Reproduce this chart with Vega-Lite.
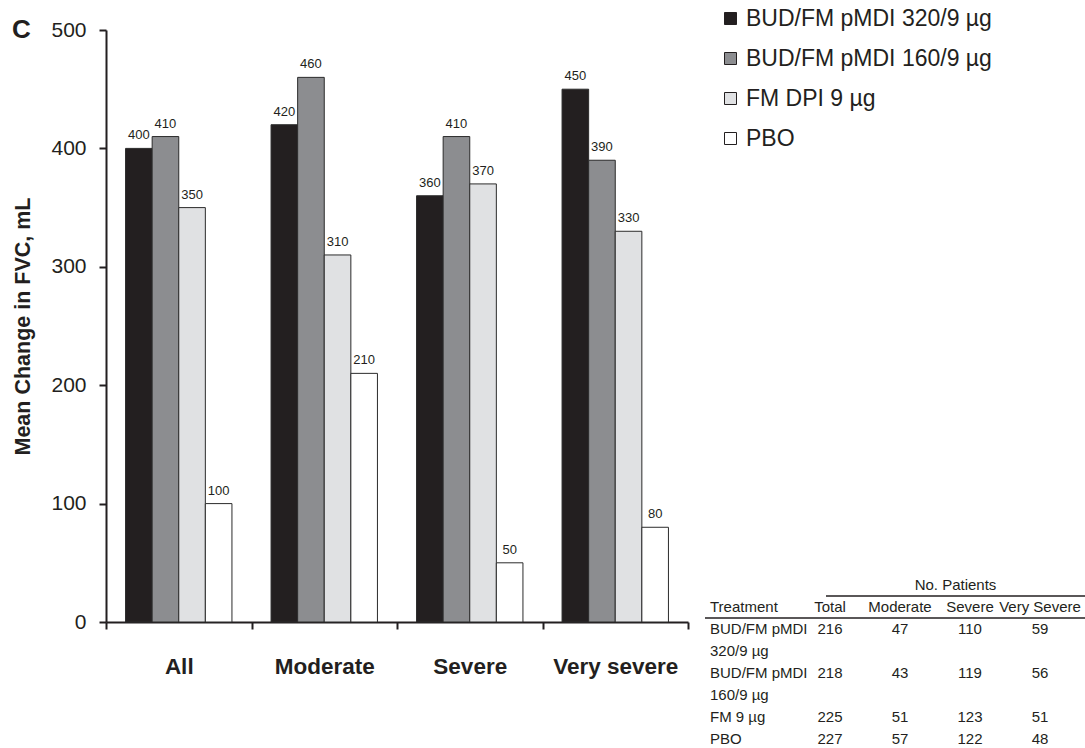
{
  "$schema": "https://vega.github.io/schema/vega-lite/v6.json",
  "autosize": {"type": "none"},
  "padding": {"left": 106, "top": 30, "right": 979, "bottom": 718},
  "background": "#ffffff",
  "config": {
    "view": {"stroke": null},
    "font": "Liberation Sans",
    "axis": {"domainColor": "#231f20", "tickColor": "#231f20", "labelColor": "#231f20", "titleColor": "#231f20", "labelFont": "Liberation Sans", "titleFont": "Liberation Sans", "grid": false},
    "legend": {"labelFont": "Liberation Sans", "labelColor": "#231f20"},
    "text": {"font": "Liberation Sans", "color": "#231f20"}
  },
  "hconcat": [
    {
      "width": 582,
      "height": 592,
      "title": {"text": "C", "anchor": "start", "frame": "group", "fontSize": 26, "fontWeight": "bold", "font": "Liberation Sans", "color": "#231f20", "dx": -94, "offset": -24, "align": "left"},
      "data": {"values": [
        {"group": "All", "treatment": "BUD/FM pMDI 320/9 µg", "value": 400},
        {"group": "All", "treatment": "BUD/FM pMDI 160/9 µg", "value": 410},
        {"group": "All", "treatment": "FM DPI 9 µg", "value": 350},
        {"group": "All", "treatment": "PBO", "value": 100},
        {"group": "Moderate", "treatment": "BUD/FM pMDI 320/9 µg", "value": 420},
        {"group": "Moderate", "treatment": "BUD/FM pMDI 160/9 µg", "value": 460},
        {"group": "Moderate", "treatment": "FM DPI 9 µg", "value": 310},
        {"group": "Moderate", "treatment": "PBO", "value": 210},
        {"group": "Severe", "treatment": "BUD/FM pMDI 320/9 µg", "value": 360},
        {"group": "Severe", "treatment": "BUD/FM pMDI 160/9 µg", "value": 410},
        {"group": "Severe", "treatment": "FM DPI 9 µg", "value": 370},
        {"group": "Severe", "treatment": "PBO", "value": 50},
        {"group": "Very severe", "treatment": "BUD/FM pMDI 320/9 µg", "value": 450},
        {"group": "Very severe", "treatment": "BUD/FM pMDI 160/9 µg", "value": 390},
        {"group": "Very severe", "treatment": "FM DPI 9 µg", "value": 330},
        {"group": "Very severe", "treatment": "PBO", "value": 80}
      ]},
      "encoding": {
        "x": {"field": "group", "type": "nominal", "sort": null,
              "scale": {"type": "band", "paddingInner": 0, "paddingOuter": 0},
              "axis": {"title": null, "labelAngle": 0, "labelFontSize": 22.5, "labelFontWeight": "bold", "labelPadding": 26, "tickSize": 7, "tickWidth": 2, "domainWidth": 2, "tickBand": "extent"}},
        "xOffset": {"field": "treatment", "type": "nominal", "sort": null,
                    "scale": {"paddingInner": 0, "paddingOuter": 0.735}},
        "y": {"field": "value", "type": "quantitative",
              "scale": {"domain": [0, 500], "nice": false},
              "axis": {"title": "Mean Change in FVC, mL", "titleFontSize": 21.5, "titleFontWeight": "bold", "values": [0, 100, 200, 300, 400, 500], "labelFontSize": 21, "labelPadding": 13, "tickSize": 7, "tickWidth": 2, "domainWidth": 2, "titlePadding": 16}}
      },
      "layer": [
        {
          "mark": {"type": "bar", "stroke": "#2b2b2b", "strokeWidth": 1},
          "encoding": {
            "fill": {"field": "treatment", "type": "nominal", "sort": null,
                     "scale": {"domain": ["BUD/FM pMDI 320/9 µg", "BUD/FM pMDI 160/9 µg", "FM DPI 9 µg", "PBO"], "range": ["#231f20", "#8c8d90", "#e0e1e3", "#ffffff"]},
                     "legend": {"orient": "none", "legendX": 613, "legendY": -23, "title": null, "symbolType": "square", "symbolSize": 144, "symbolStrokeColor": "#231f20", "symbolStrokeWidth": 1, "labelFontSize": 23, "labelOffset": 4, "rowPadding": 16, "padding": 0, "labelLimit": 400}}
          }
        },
        {
          "mark": {"type": "text", "baseline": "alphabetic", "dy": -9, "fontSize": 13, "color": "#231f20"},
          "encoding": {"text": {"field": "value", "type": "quantitative"}}
        }
      ]
    },
    {
      "vconcat": [
        {
          "width": 380,
          "height": 528,
          "data": {"values": []},
          "mark": "point",
          "encoding": {}
        },
        {
          "width": 380,
          "height": 176,
          "data": {"values": [
            {"row": "h1", "col": "No. Patients", "label": "No. Patients"},
            {"row": "h2", "col": "Treatment", "label": "Treatment"},
            {"row": "h2", "col": "Total", "label": "Total"},
            {"row": "h2", "col": "Moderate", "label": "Moderate"},
            {"row": "h2", "col": "Severe", "label": "Severe"},
            {"row": "h2", "col": "Very Severe", "label": "Very Severe"},
            {"row": "a1", "col": "Treatment", "label": "BUD/FM pMDI"},
            {"row": "a2", "col": "Treatment", "label": "320/9 µg"},
            {"row": "a1", "col": "Total", "label": "216"},
            {"row": "a1", "col": "Moderate", "label": "47"},
            {"row": "a1", "col": "Severe", "label": "110"},
            {"row": "a1", "col": "Very Severe", "label": "59"},
            {"row": "b1", "col": "Treatment", "label": "BUD/FM pMDI"},
            {"row": "b2", "col": "Treatment", "label": "160/9 µg"},
            {"row": "b1", "col": "Total", "label": "218"},
            {"row": "b1", "col": "Moderate", "label": "43"},
            {"row": "b1", "col": "Severe", "label": "119"},
            {"row": "b1", "col": "Very Severe", "label": "56"},
            {"row": "c", "col": "Treatment", "label": "FM 9 µg"},
            {"row": "c", "col": "Total", "label": "225"},
            {"row": "c", "col": "Moderate", "label": "51"},
            {"row": "c", "col": "Severe", "label": "123"},
            {"row": "c", "col": "Very Severe", "label": "51"},
            {"row": "d", "col": "Treatment", "label": "PBO"},
            {"row": "d", "col": "Total", "label": "227"},
            {"row": "d", "col": "Moderate", "label": "57"},
            {"row": "d", "col": "Severe", "label": "122"},
            {"row": "d", "col": "Very Severe", "label": "48"}
          ]},
          "encoding": {
            "y": {"field": "row", "type": "nominal",
                  "scale": {"type": "band", "domain": ["h1", "h2", "a1", "a2", "b1", "b2", "c", "d"], "paddingInner": 0, "paddingOuter": 0},
                  "axis": null}
          },
          "layer": [
            {
              "transform": [{"filter": "datum.col === 'Treatment'"}],
              "mark": {"type": "text", "align": "left", "baseline": "middle", "dx": 5, "fontSize": 15},
              "encoding": {
                "x": {"field": "col", "type": "nominal", "bandPosition": 0, "scale": {"type": "band", "paddingInner": 0, "paddingOuter": 0}, "axis": null},
                "text": {"field": "label"}
              }
            },
            {
              "transform": [{"filter": "indexof(['Total','Moderate','Severe','Very Severe'], datum.col) >= 0"}],
              "mark": {"type": "text", "align": "center", "baseline": "middle", "fontSize": 15},
              "encoding": {
                "x": {"field": "col", "type": "nominal", "scale": {"type": "band", "domain": ["Total", "Moderate", "Severe", "Very Severe"], "paddingInner": 0, "paddingOuter": 0.714, "align": 0.9}, "axis": null},
                "text": {"field": "label"}
              }
            },
            {
              "transform": [{"filter": "datum.col === 'No. Patients'"}],
              "layer": [
                {
                  "mark": {"type": "text", "align": "center", "baseline": "middle", "fontSize": 15},
                  "encoding": {
                    "x": {"field": "col", "type": "nominal", "scale": {"type": "band", "paddingInner": 0, "paddingOuter": 0.2336, "align": 1}, "axis": null},
                    "text": {"field": "label"}
                  }
                },
                {
                  "mark": {"type": "rule", "color": "#231f20", "strokeWidth": 1.5},
                  "encoding": {
                    "x": {"field": "col", "type": "nominal", "bandPosition": 0},
                    "x2": {"field": "col", "bandPosition": 1},
                    "y": {"field": "row", "type": "nominal", "bandPosition": 1}
                  }
                }
              ]
            },
            {
              "data": {"values": [{"row": "h2"}]},
              "mark": {"type": "rule", "color": "#231f20", "strokeWidth": 1.5},
              "encoding": {"y": {"field": "row", "type": "nominal", "bandPosition": 1}}
            }
          ],
          "resolve": {"scale": {"x": "independent"}}
        }
      ],
      "spacing": 16,
      "bounds": "flush"
    }
  ],
  "spacing": 17,
  "bounds": "flush"
}
